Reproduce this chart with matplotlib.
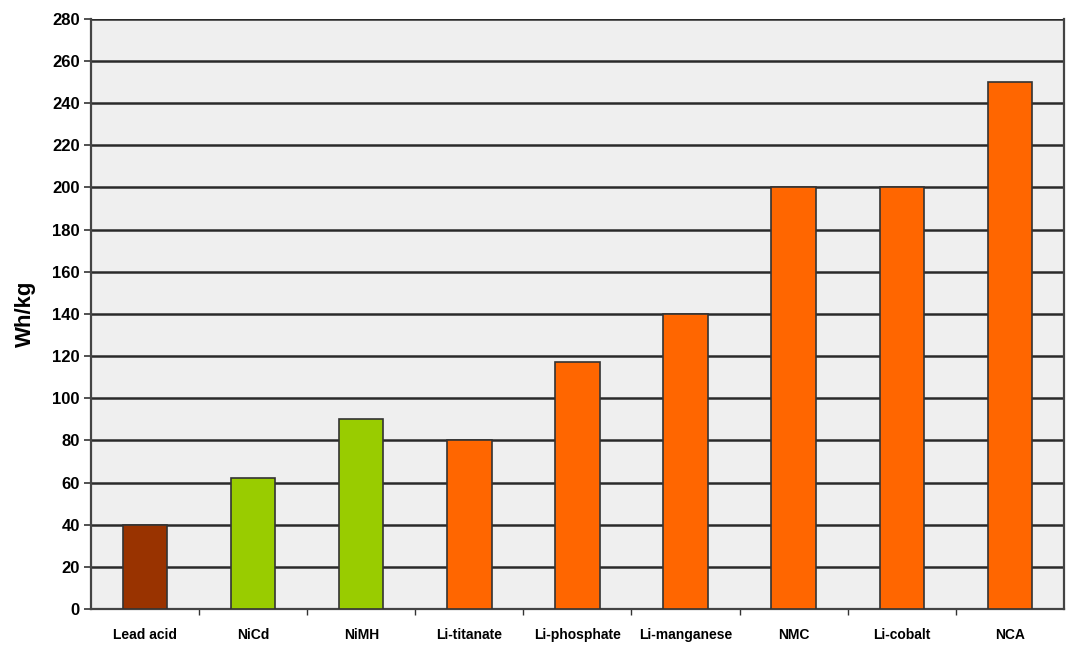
import numpy as np
import matplotlib.pyplot as plt

plt.rcParams['font.family'] = ['Liberation Sans', 'DejaVu Sans']

# specific energy by battery chemistry
chemistries = ['Lead acid', 'NiCd', 'NiMH', 'Li-titanate', 'Li-phosphate',
               'Li-manganese', 'NMC', 'Li-cobalt', 'NCA']
wh_per_kg = [40, 62, 90, 80, 117, 140, 200, 200, 250]
colors = ['#993300', '#99cc00', '#99cc00', '#ff6600', '#ff6600',
          '#ff6600', '#ff6600', '#ff6600', '#ff6600']
yticks = np.arange(0, 281, 20)

fig = plt.figure(figsize=(10.66, 6.52), dpi=100)
ax = fig.add_axes([0.0854, 0.066, 0.9126, 0.905])
ax.set_facecolor('#efefef')

x = np.arange(len(chemistries))
ax.bar(x, wh_per_kg, width=0.41, color=colors, edgecolor='#333333',
       linewidth=1.2, zorder=3)

ax.set_xlim(-0.5, len(chemistries) - 0.5)
ax.set_ylim(0, 280)
ax.set_yticks(yticks)
ax.set_yticklabels([str(v) for v in yticks], fontsize=12, fontweight='bold')
ax.yaxis.grid(True, color='#2a2a2a', linewidth=1.8, zorder=1)

# category labels centred under bars, small ticks between categories
ax.set_xticks(x)
ax.set_xticklabels(chemistries, fontsize=10, fontweight='bold')
ax.tick_params(axis='x', length=0, pad=14)
ax.set_xticks(np.arange(0.5, len(chemistries) - 1, 1), minor=True)
ax.tick_params(axis='x', which='minor', length=4, width=1, color='#333333')
ax.tick_params(axis='y', length=5, width=1.2, color='#333333', pad=3)

for side in ['left', 'bottom', 'right']:
    ax.spines[side].set_color('#444444')
    ax.spines[side].set_linewidth(1.6)
ax.spines['top'].set_visible(False)

ax.set_ylabel('Wh/kg', fontsize=16, fontweight='bold', labelpad=12)

fig.savefig('out.png', dpi=100)
